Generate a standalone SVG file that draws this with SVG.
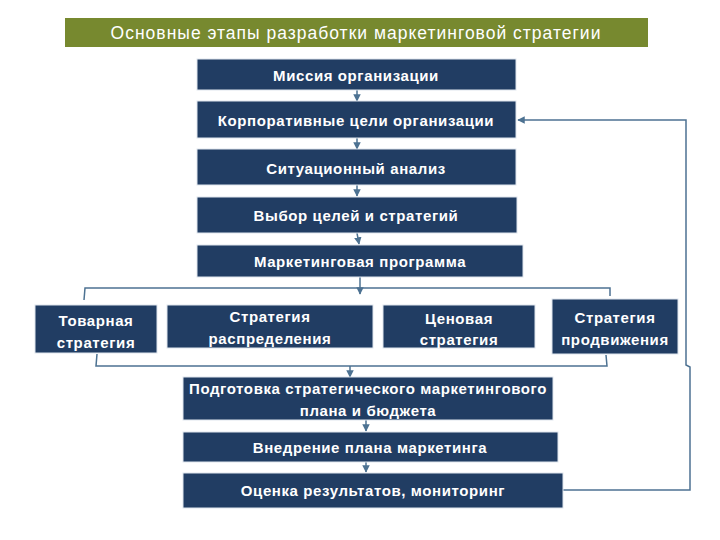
<svg xmlns="http://www.w3.org/2000/svg" width="720" height="540" viewBox="0 0 720 540">
<style>
.box{fill:#213d63;stroke:#dfe6ee;stroke-width:1}
.t{fill:#ffffff;font-family:"Liberation Sans",Arial,sans-serif;font-size:15px;font-weight:bold;letter-spacing:0.6px;text-anchor:middle;dominant-baseline:central}
.title{fill:#ffffff;font-family:"Liberation Sans",Arial,sans-serif;font-size:17.5px;letter-spacing:1px;text-anchor:middle;dominant-baseline:central}
.c{fill:none;stroke:#4d7292;stroke-width:1.5}
</style>
<defs>
<marker id="ah" viewBox="0 0 10 10" refX="9" refY="5" markerWidth="5" markerHeight="5" orient="auto-start-reverse">
<path d="M0,0 L10,5 L0,10 z" fill="#4d7292"/>
</marker>
</defs>
<rect width="720" height="540" fill="#ffffff"/>
<g id="title">
<rect x="65" y="18" width="583" height="29" fill="#77892f"/>
<text class="title" x="356" y="33">Основные этапы разработки маркетинговой стратегии</text>
</g>
<g id="connectors">
<line class="c" x1="357" y1="90" x2="357" y2="101" marker-end="url(#ah)"/>
<line class="c" x1="357" y1="138" x2="357" y2="149" marker-end="url(#ah)"/>
<line class="c" x1="357" y1="185" x2="357" y2="196" marker-end="url(#ah)"/>
<line class="c" x1="357" y1="233" x2="359" y2="244" marker-end="url(#ah)"/>
<line class="c" x1="360" y1="277" x2="360" y2="294" marker-end="url(#ah)"/>
<path class="c" d="M84,300 L85,288 H610 V296"/>
<path class="c" d="M97,354 L96,366 H607 L606,355"/>
<line class="c" x1="350" y1="366" x2="350" y2="377" marker-end="url(#ah)"/>
<line class="c" x1="366" y1="420" x2="366" y2="431" marker-end="url(#ah)"/>
<line class="c" x1="366" y1="462" x2="366" y2="472" marker-end="url(#ah)"/>
<path class="c" d="M563,490 H690 V367 L686,365 V120 H518" marker-end="url(#ah)"/>
</g>
<g id="n1"><rect class="box" x="197" y="59" width="319" height="31"/><text class="t" x="356" y="75">Миссия организации</text></g>
<g id="n2"><rect class="box" x="197" y="101" width="319" height="37"/><text class="t" x="356" y="120">Корпоративные цели организации</text></g>
<g id="n3"><rect class="box" x="197" y="149" width="319" height="36"/><text class="t" x="356" y="168">Ситуационный анализ</text></g>
<g id="n4"><rect class="box" x="197" y="197" width="320" height="36"/><text class="t" x="356" y="215">Выбор целей и стратегий</text></g>
<g id="n5"><rect class="box" x="197" y="245" width="326" height="32"/><text class="t" x="360" y="261">Маркетинговая программа</text></g>
<g id="n6"><rect class="box" x="35" y="305" width="122" height="48"/><text class="t" x="96" y="320">Товарная</text><text class="t" x="96" y="342">стратегия</text></g>
<g id="n7"><rect class="box" x="167" y="305" width="206" height="43"/><text class="t" x="270" y="316">Стратегия</text><text class="t" x="270" y="338">распределения</text></g>
<g id="n8"><rect class="box" x="383" y="305" width="152" height="43"/><text class="t" x="459" y="318">Ценовая</text><text class="t" x="459" y="339">стратегия</text></g>
<g id="n9"><rect class="box" x="552" y="299" width="126" height="55"/><text class="t" x="615" y="317">Стратегия</text><text class="t" x="615" y="339">продвижения</text></g>
<g id="n10"><rect class="box" x="183" y="377" width="370" height="43"/><text class="t" x="368" y="388">Подготовка стратегического маркетингового</text><text class="t" x="368" y="410">плана и бюджета</text></g>
<g id="n11"><rect class="box" x="183" y="432" width="375" height="30"/><text class="t" x="370" y="447">Внедрение плана маркетинга</text></g>
<g id="n12"><rect class="box" x="183" y="473" width="380" height="35"/><text class="t" x="373" y="490">Оценка результатов, мониторинг</text></g>
</svg>
